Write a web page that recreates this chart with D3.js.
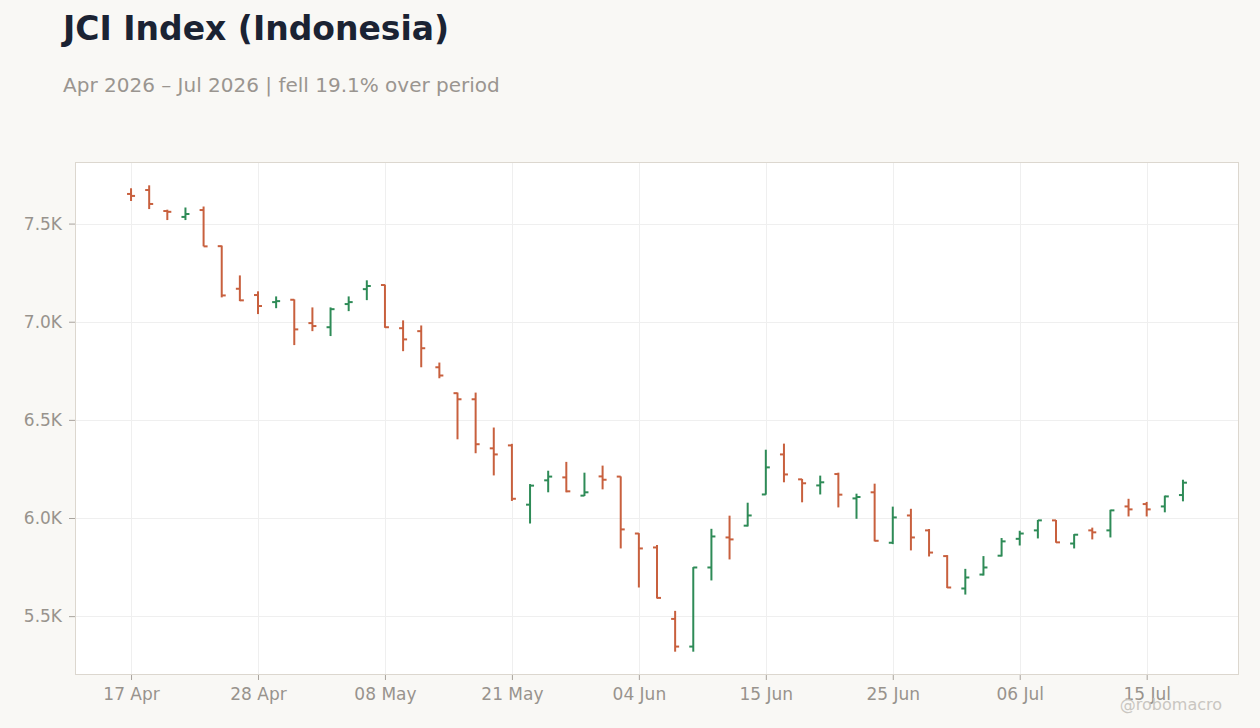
<!DOCTYPE html>
<html>
<head>
<meta charset="utf-8">
<script src="https://cdn.jsdelivr.net/npm/d3@7"></script>
<style>
  body { margin: 0; background: #f9f8f5; }
  svg { display: block; font-family: "DejaVu Sans", sans-serif; }
</style>
</head>
<body>
<div id="chart"></div>
<script>
// trading days (some holidays skipped)
const dates = [
    "2026-04-17", "2026-04-20", "2026-04-21", "2026-04-22", "2026-04-23", "2026-04-24", "2026-04-27",
    "2026-04-28", "2026-04-29", "2026-04-30", "2026-05-04", "2026-05-05", "2026-05-06", "2026-05-07",
    "2026-05-08", "2026-05-11", "2026-05-12", "2026-05-13", "2026-05-15", "2026-05-18", "2026-05-19",
    "2026-05-21", "2026-05-22", "2026-05-26", "2026-05-27", "2026-05-28", "2026-06-02", "2026-06-03",
    "2026-06-04", "2026-06-05", "2026-06-08", "2026-06-09", "2026-06-10", "2026-06-11", "2026-06-12",
    "2026-06-15", "2026-06-17", "2026-06-18", "2026-06-19", "2026-06-22", "2026-06-23", "2026-06-24",
    "2026-06-25", "2026-06-26", "2026-06-29", "2026-06-30", "2026-07-01", "2026-07-02", "2026-07-03",
    "2026-07-06", "2026-07-07", "2026-07-08", "2026-07-09", "2026-07-10", "2026-07-13", "2026-07-14",
    "2026-07-15", "2026-07-16", "2026-07-17"
];

const open = [
    7651, 7671, 7564, 7534, 7569, 7385, 7168, 7136, 7100, 7112, 6993, 6972, 7090, 7166, 7187,
    6967, 6952, 6768, 6636, 6605, 6355, 6370, 6068, 6192, 6207, 6114, 6212, 6211, 5921, 5850,
    5486, 5345, 5748, 5901, 5961, 6120, 6324, 6197, 6166, 6224, 6100, 6131, 5874, 6013, 5937,
    5806, 5641, 5712, 5808, 5894, 5937, 5988, 5870, 5937, 5937, 6059, 6071, 6059, 6117
];
const high = [
    7680, 7695, 7571, 7582, 7587, 7388, 7236, 7155, 7129, 7114, 7073, 7073, 7129, 7211, 7189,
    7007, 6981, 6792, 6639, 6639, 6461, 6378, 6173, 6241, 6286, 6231, 6267, 6212, 5923, 5862,
    5527, 5750, 5945, 6012, 6078, 6348, 6379, 6199, 6216, 6231, 6124, 6175, 6058, 6047, 5944,
    5811, 5741, 5806, 5898, 5935, 5990, 5990, 5918, 5951, 6042, 6098, 6082, 6114, 6195
];
const low = [
    7615, 7574, 7518, 7518, 7384, 7124, 7105, 7039, 7069, 6881, 6952, 6927, 7054, 7110, 6969,
    6850, 6768, 6712, 6401, 6330, 6217, 6087, 5972, 6131, 6131, 6112, 6146, 5845, 5646, 5590,
    5319, 5319, 5682, 5789, 5957, 6119, 6182, 6080, 6120, 6054, 5996, 5881, 5867, 5835, 5804,
    5643, 5610, 5707, 5804, 5860, 5896, 5874, 5845, 5891, 5901, 6008, 6008, 6029, 6085
];
const close = [
    7641, 7600, 7560, 7549, 7384, 7134, 7109, 7080, 7105, 6961, 6978, 7064, 7100, 7182, 6972,
    6910, 6865, 6726, 6605, 6376, 6324, 6098, 6165, 6211, 6136, 6131, 6195, 5942, 5845, 5593,
    5345, 5748, 5906, 5891, 6013, 6258, 6222, 6177, 6182, 6119, 6107, 5884, 6003, 5901, 5824,
    5646, 5697, 5748, 5881, 5921, 5988, 5876, 5915, 5927, 6039, 6044, 6044, 6110, 6180
];

const yTicks = [5500, 6000, 6500, 7000, 7500];
const tickEvery = 7;

const titleText = "JCI Index (Indonesia)";
const subtitleText = "Apr 2026 \u2013 Jul 2026 | fell 19.1% over period";
const credit = "@robomacro";

const width = 1260, height = 728;
const margin = { top: 162, right: 21, bottom: 53, left: 75 };
const upColor = "#2e8b57", downColor = "#c8603e";
const textGrey = "#98938d";

const parse = d3.timeParse("%Y-%m-%d");
const fmtDay = d3.timeFormat("%d %b");

const bars = dates.map((d, i) => ({
    i: i, date: parse(d), o: open[i], h: high[i], l: low[i], c: close[i]
}));

const svg = d3.select("#chart").append("svg")
    .attr("width", width)
    .attr("height", height);

svg.append("rect").attr("width", width).attr("height", height).attr("fill", "#f9f8f5");

// titles
svg.append("text")
    .attr("x", 63).attr("y", 40)
    .attr("font-size", 33).attr("font-weight", "bold")
    .attr("fill", "#1b2333")
    .text(titleText);

svg.append("text")
    .attr("x", 63).attr("y", 92)
    .attr("font-size", 20)
    .attr("fill", "#9a9590")
    .text(subtitleText);

const x0 = margin.left, x1 = width - margin.right;
const y0 = height - margin.bottom, y1 = margin.top;

// index based x scale with some padding at both ends
const x = d3.scaleLinear()
    .domain([-3.09, bars.length - 1 + 3.09])
    .range([x0, x1]);

const lo = d3.min(low), hi = d3.max(high);
const pad = (hi - lo) * 0.05;
const y = d3.scaleLinear()
    .domain([lo - pad, hi + pad])
    .range([y0, y1]);

svg.append("rect")
    .attr("x", x0).attr("y", y1)
    .attr("width", x1 - x0).attr("height", y0 - y1)
    .attr("fill", "#ffffff");

const xTickIdx = d3.range(0, bars.length, tickEvery);

// gridlines
const grid = svg.append("g").attr("stroke", "#efefef").attr("stroke-width", 1);
grid.selectAll(".gy").data(yTicks).enter().append("line")
    .attr("x1", x0).attr("x2", x1)
    .attr("y1", d => Math.round(y(d)) + 0.5).attr("y2", d => Math.round(y(d)) + 0.5);
grid.selectAll(".gx").data(xTickIdx).enter().append("line")
    .attr("y1", y1).attr("y2", y0)
    .attr("x1", d => Math.round(x(d)) + 0.5).attr("x2", d => Math.round(x(d)) + 0.5);

// axes
const yAxis = d3.axisLeft(y)
    .tickValues(yTicks)
    .tickSize(6)
    .tickPadding(7)
    .tickFormat(v => (v / 1000).toFixed(1) + "K");

const gy = svg.append("g")
    .attr("transform", `translate(${x0},0)`)
    .call(yAxis);

const xAxis = d3.axisBottom(x)
    .tickValues(xTickIdx)
    .tickSize(5)
    .tickPadding(8)
    .tickFormat(i => fmtDay(bars[i].date));

const gx = svg.append("g")
    .attr("transform", `translate(0,${y0})`)
    .call(xAxis);

[gx, gy].forEach(g => {
    g.select(".domain").remove();
    g.selectAll(".tick line").attr("stroke", "#a8a39d");
    g.selectAll(".tick text")
        .attr("fill", textGrey)
        .attr("font-size", 17)
        .attr("font-family", "DejaVu Sans, sans-serif");
});

// plot border
svg.append("rect")
    .attr("x", x0 + 0.5).attr("y", y1 + 0.5)
    .attr("width", x1 - x0 - 1).attr("height", y0 - y1 - 1)
    .attr("fill", "none")
    .attr("stroke", "#dcd7cf");

// OHLC bars
const tickLen = 4;
const ohlc = svg.append("g").attr("stroke-width", 2);

const bar = ohlc.selectAll(".bar").data(bars).enter().append("g")
    .attr("class", "bar")
    .attr("stroke", d => d.c >= d.o ? upColor : downColor);

bar.append("line")
    .attr("x1", d => x(d.i)).attr("x2", d => x(d.i))
    .attr("y1", d => y(d.h)).attr("y2", d => y(d.l));

bar.append("line")
    .attr("x1", d => x(d.i) - tickLen).attr("x2", d => x(d.i))
    .attr("y1", d => y(d.o)).attr("y2", d => y(d.o));

bar.append("line")
    .attr("x1", d => x(d.i)).attr("x2", d => x(d.i) + tickLen)
    .attr("y1", d => y(d.c)).attr("y2", d => y(d.c));

// credit
svg.append("text")
    .attr("x", 1222).attr("y", 710)
    .attr("text-anchor", "end")
    .attr("font-size", 16)
    .attr("fill", "#c9c6c1")
    .text(credit);
</script>
</body>
</html>
